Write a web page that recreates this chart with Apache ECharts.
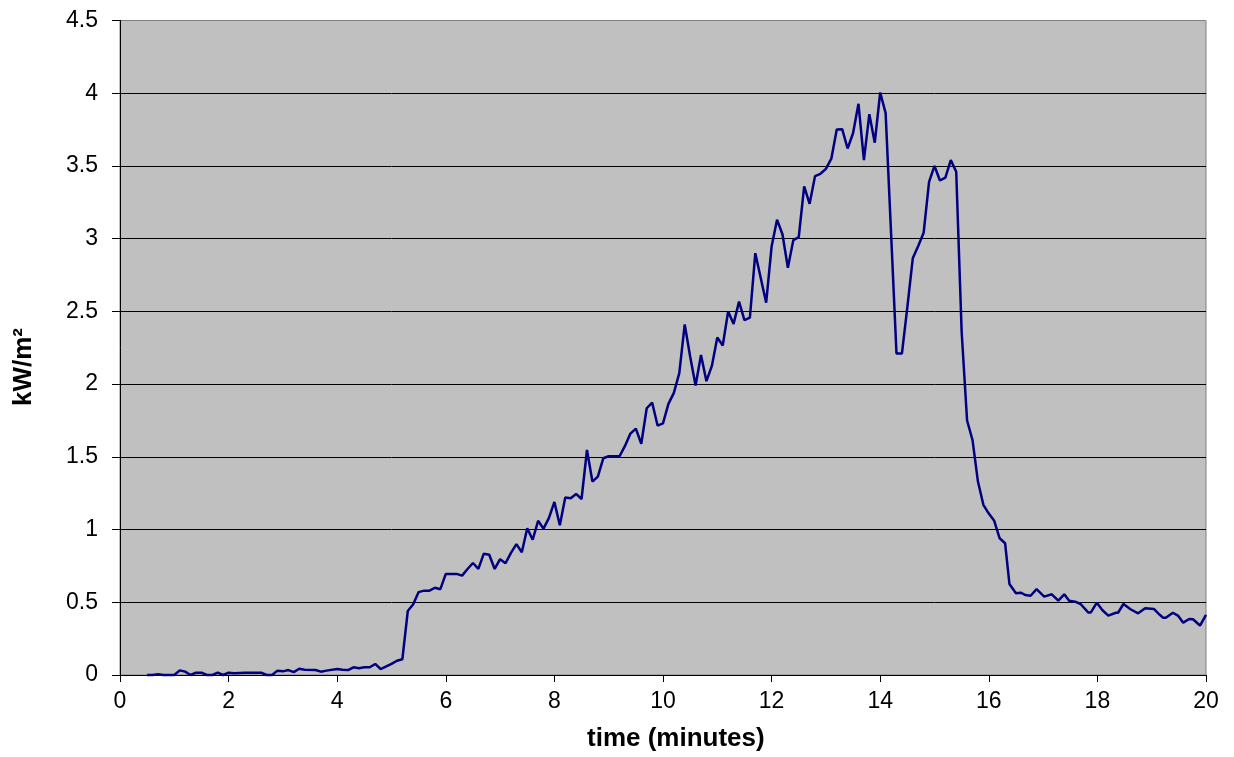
<!DOCTYPE html>
<html>
<head>
<meta charset="utf-8">
<title>Heat flux vs time</title>
<script src="https://cdn.jsdelivr.net/npm/echarts@6/dist/echarts.min.js"></script>
<style>
  html, body { margin: 0; padding: 0; background: #ffffff; }
  #chart { width: 1234px; height: 757px; }
</style>
</head>
<body>
<div id="chart"></div>
<script>
// Measured heat flux (kW/m²) against elapsed time (minutes)
const times = [
  0.5, 0.6, 0.7, 0.8, 1.0, 1.1, 1.2, 1.3, 1.4, 1.5, 1.6, 1.7, 1.8, 1.9, 2.0, 2.1, 2.3, 2.5, 2.6, 2.7,
  2.8, 2.9, 3.0, 3.1, 3.2, 3.3, 3.4, 3.6, 3.7, 3.8, 4.0, 4.1, 4.2, 4.3, 4.4, 4.5, 4.6, 4.7, 4.8, 5.0,
  5.1, 5.2, 5.3, 5.4, 5.5, 5.6, 5.7, 5.8, 5.9, 6.0, 6.1, 6.2, 6.3, 6.4, 6.5, 6.6, 6.7, 6.8, 6.9, 7.0,
  7.1, 7.2, 7.3, 7.4, 7.5, 7.6, 7.7, 7.8, 7.9, 8.0, 8.1, 8.2, 8.3, 8.4, 8.5, 8.6, 8.7, 8.8, 8.9, 9.0,
  9.1, 9.2, 9.3, 9.4, 9.5, 9.6, 9.7, 9.8, 9.9, 10.0, 10.1, 10.2, 10.3, 10.4, 10.5, 10.6, 10.7, 10.8, 10.9, 11.0,
  11.1, 11.2, 11.3, 11.4, 11.5, 11.6, 11.7, 11.8, 11.9, 12.0, 12.1, 12.2, 12.3, 12.4, 12.5, 12.6, 12.7, 12.8, 12.9, 13.0,
  13.1, 13.2, 13.3, 13.4, 13.5, 13.6, 13.7, 13.8, 13.9, 14.0, 14.1, 14.2, 14.3, 14.4, 14.5, 14.6, 14.7, 14.8, 14.9, 15.0,
  15.1, 15.2, 15.3, 15.4, 15.5, 15.6, 15.7, 15.8, 15.9, 16.0, 16.1, 16.2, 16.3, 16.38, 16.5, 16.59, 16.67, 16.77, 16.88, 17.02,
  17.16, 17.28, 17.39, 17.48, 17.59, 17.69, 17.83, 17.88, 17.99, 18.09, 18.2, 18.34, 18.38, 18.48, 18.61, 18.75, 18.88, 19.04, 19.12, 19.21,
  19.26, 19.39, 19.49, 19.58, 19.69, 19.76, 19.89, 20.0
];
const kw = [
  0, 0, 0.005, 0, 0, 0.032, 0.023, 0, 0.016, 0.016, 0, 0, 0.016, 0, 0.016, 0.012, 0.016, 0.016, 0.016, 0,
  0, 0.03, 0.025, 0.034, 0.02, 0.043, 0.036, 0.034, 0.023, 0.03, 0.041, 0.036, 0.034, 0.053, 0.046, 0.053, 0.053, 0.076, 0.041, 0.076,
  0.098, 0.108, 0.44, 0.486, 0.57, 0.58, 0.58, 0.6, 0.59, 0.695, 0.695, 0.695, 0.683, 0.729, 0.77, 0.73, 0.834, 0.827, 0.729, 0.796,
  0.768, 0.84, 0.9, 0.844, 1.009, 0.93, 1.06, 1.006, 1.08, 1.19, 1.03, 1.22, 1.215, 1.245, 1.21, 1.547, 1.33, 1.364, 1.49, 1.504,
  1.504, 1.504, 1.575, 1.66, 1.694, 1.59, 1.834, 1.873, 1.715, 1.73, 1.864, 1.94, 2.075, 2.41, 2.19, 1.99, 2.2, 2.02, 2.125, 2.32,
  2.265, 2.5, 2.414, 2.567, 2.44, 2.457, 2.9, 2.73, 2.56, 2.946, 3.13, 3.03, 2.8, 2.99, 3.01, 3.36, 3.24, 3.43, 3.446, 3.48,
  3.55, 3.75, 3.753, 3.62, 3.725, 3.927, 3.54, 3.856, 3.66, 4.005, 3.863, 3.04, 2.21, 2.21, 2.53, 2.865, 2.95, 3.04, 3.39, 3.5,
  3.4, 3.42, 3.54, 3.46, 2.36, 1.75, 1.616, 1.33, 1.17, 1.11, 1.06, 0.94, 0.906, 0.626, 0.562, 0.566, 0.55, 0.545, 0.59, 0.539,
  0.555, 0.511, 0.555, 0.511, 0.504, 0.488, 0.43, 0.43, 0.497, 0.447, 0.408, 0.428, 0.428, 0.488, 0.452, 0.424, 0.459, 0.454, 0.424, 0.394,
  0.394, 0.428, 0.406, 0.36, 0.385, 0.383, 0.34, 0.413
];
const xTicks = { min: 0, max: 20, step: 2 };
const yTicks = { min: 0, max: 4.5, step: 0.5 };
const xTitle = 'time (minutes)';
const yTitle = 'kW/m²';

const FONT = '"Liberation Sans", Arial, sans-serif';
const points = times.map((t, i) => [t, kw[i]]);

// Black gridlines for every level except the top edge, which stays grey like the frame
const levelCount = Math.round((yTicks.max - yTicks.min) / yTicks.step) + 1;
const splitColors = [];
for (let i = 0; i < levelCount; i++) splitColors.push(i === levelCount - 1 ? '#808080' : '#000000');

const chart = echarts.init(document.getElementById('chart'), null, { renderer: 'canvas' });
chart.setOption({
  animation: false,
  backgroundColor: '#ffffff',
  grid: {
    left: 120, right: 28, top: 20.5, bottom: 82,
    show: true,
    backgroundColor: '#c0c0c0',
    borderColor: '#808080',
    borderWidth: 1
  },
  xAxis: {
    type: 'value',
    min: xTicks.min, max: xTicks.max, interval: xTicks.step,
    axisLine: { show: true, onZero: false, lineStyle: { color: '#000000', width: 1 } },
    axisTick: { show: true, inside: false, length: 7, lineStyle: { color: '#000000' } },
    axisLabel: { color: '#000000', fontFamily: FONT, fontSize: 23, margin: 15 },
    splitLine: { show: false }
  },
  yAxis: {
    type: 'value',
    min: yTicks.min, max: yTicks.max, interval: yTicks.step,
    axisLine: { show: true, lineStyle: { color: '#000000', width: 1 } },
    axisTick: { show: true, inside: false, length: 8, lineStyle: { color: '#000000' } },
    axisLabel: { color: '#000000', fontFamily: FONT, fontSize: 23, margin: 22 },
    splitLine: { show: true, lineStyle: { color: splitColors, width: 1 } }
  },
  graphic: [
    {
      type: 'text', left: 587, top: 726,
      style: { text: xTitle, fill: '#000000', font: 'bold 26px ' + FONT }
    },
    {
      type: 'text', x: 24, y: 367, rotation: Math.PI / 2,
      style: { text: yTitle, fill: '#000000', font: 'bold 26px ' + FONT, align: 'center', verticalAlign: 'middle' }
    }
  ],
  series: [{
    type: 'line',
    data: points,
    showSymbol: false,
    lineStyle: { color: '#000080', width: 2.5 },
    clip: false
  }]
});
</script>
</body>
</html>
